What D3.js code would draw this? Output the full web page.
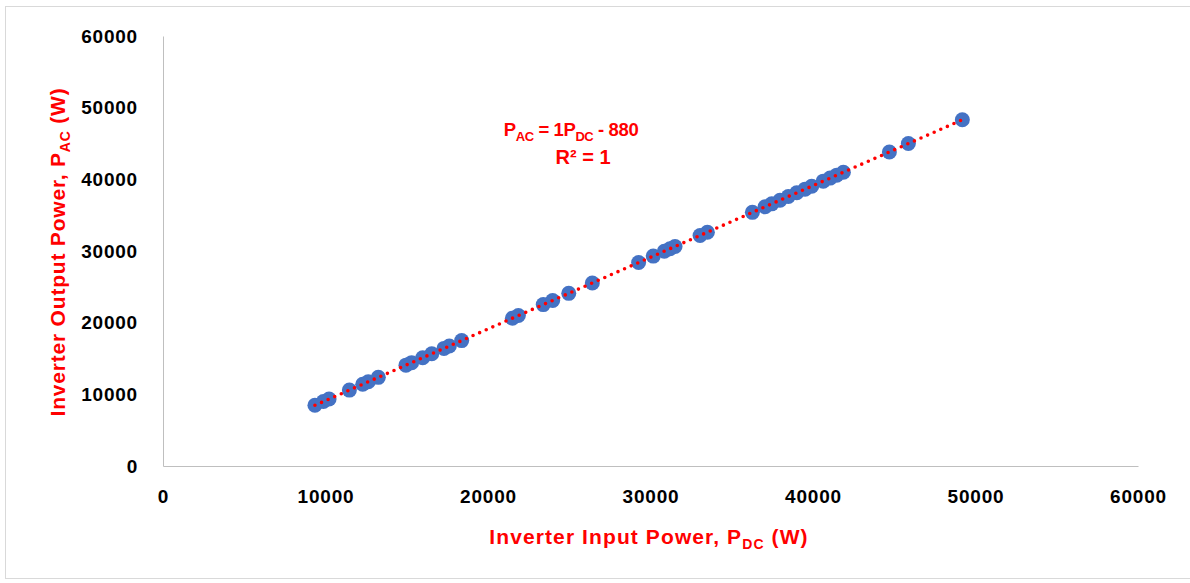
<!DOCTYPE html>
<html>
<head>
<meta charset="utf-8">
<script src="https://cdn.jsdelivr.net/npm/d3@7"></script>
<style>
  html, body { margin: 0; padding: 0; background: #fff; }
  svg text { font-family: "Liberation Sans", Arial, sans-serif; font-weight: bold; }
</style>
</head>
<body>
<svg id="chart" width="1190" height="583"></svg>
<script>
// ---- data ----
const pdc = [9350, 9870, 10220, 11470, 12290, 12630, 13250, 14950, 15300, 15980,
             16540, 17290, 17620, 18380, 21500, 21870, 23400, 23980, 24970, 26420,
             29270, 30170, 30850, 31200, 31510, 33050, 33500, 36270, 37050, 37460,
             37970, 38480, 39000, 39510, 39920, 40630, 41050, 41460, 41870, 44700,
             45870, 49190];
const pac = [8470, 8990, 9340, 10590, 11410, 11750, 12370, 14070, 14420, 15100,
             15660, 16410, 16740, 17500, 20620, 20990, 22520, 23100, 24090, 25540,
             28390, 29290, 29970, 30320, 30630, 32170, 32620, 35390, 36170, 36580,
             37090, 37600, 38120, 38630, 39040, 39750, 40170, 40580, 40990, 43820,
             44990, 48310];
const xTicks = [0, 10000, 20000, 30000, 40000, 50000, 60000];
const yTicks = [0, 10000, 20000, 30000, 40000, 50000, 60000];
const trendSlope = 1;
const trendIntercept = -880;
const xTitle = ["Inverter Input Power, P", "DC", " (W)"];
const yTitle = ["Inverter Output Power, P", "AC", " (W)"];

// ---- layout ----
const svg = d3.select("#chart");
const L = 163, R = 1138, T = 36, B = 466;
const x = d3.scaleLinear().domain([0, 60000]).range([L, R]);
const y = d3.scaleLinear().domain([0, 60000]).range([B, T]);

// chart frame
svg.append("rect").attr("x", 5.5).attr("y", 6.5).attr("width", 1200).attr("height", 572)
  .attr("fill", "#fff").attr("stroke", "#d9d9d9").attr("stroke-width", 1);

// axes
const xAxis = svg.append("g").attr("transform", `translate(0,${B})`)
  .call(d3.axisBottom(x).tickValues(xTicks).tickSize(0).tickPadding(24).tickFormat(d3.format("d")));
const yAxis = svg.append("g").attr("transform", `translate(${L},0)`)
  .call(d3.axisLeft(y).tickValues(yTicks).tickSize(0).tickPadding(25).tickFormat(d3.format("d")));
[xAxis, yAxis].forEach(g => {
  g.select(".domain").attr("stroke", "#bfbfbf").attr("stroke-width", 1);
  g.selectAll("text").attr("fill", "#000").style("font-size", "19px")
    .style("font-family", "'Liberation Sans', Arial, sans-serif").style("font-weight", "bold")
    .attr("letter-spacing", "0.8px");
});

// markers
svg.append("g").selectAll("circle").data(pdc).join("circle")
  .attr("cx", (d) => x(d)).attr("cy", (d, i) => y(pac[i])).attr("r", 7.5)
  .attr("fill", "#4472c4");

// trendline (dotted)
const x0 = d3.min(pdc), x1 = d3.max(pdc);
svg.append("line")
  .attr("x1", x(x0)).attr("y1", y(trendSlope * x0 + trendIntercept))
  .attr("x2", x(x1)).attr("y2", y(trendSlope * x1 + trendIntercept))
  .attr("stroke", "#ff0000").attr("stroke-width", 3.6)
  .attr("stroke-linecap", "round").attr("stroke-dasharray", "0 7.2");

// equation label
const eq = svg.append("text").attr("x", 571).attr("y", 136).attr("text-anchor", "middle")
  .attr("fill", "#ff0000").style("font-size", "18.5px").attr("letter-spacing", "-0.4px");
eq.append("tspan").text("P");
eq.append("tspan").text("AC").attr("dy", 5).style("font-size", "13px");
eq.append("tspan").text(" = 1P").attr("dy", -5);
eq.append("tspan").text("DC").attr("dy", 5).style("font-size", "13px");
eq.append("tspan").text(" - " + Math.abs(trendIntercept)).attr("dy", -5);
svg.append("text").attr("x", 583).attr("y", 164).attr("text-anchor", "middle")
  .attr("fill", "#ff0000").style("font-size", "20px").text("R² = 1");

// axis titles
function title(parts, sel) {
  sel.append("tspan").text(parts[0]);
  sel.append("tspan").text(parts[1]).attr("dy", 5).style("font-size", "14px");
  sel.append("tspan").text(parts[2]).attr("dy", -5);
}
title(xTitle, svg.append("text").attr("x", 649).attr("y", 544).attr("text-anchor", "middle")
  .attr("fill", "#ff0000").style("font-size", "21px").attr("letter-spacing", "1.1px"));
title(yTitle, svg.append("text").attr("transform", "translate(65,252) rotate(-90)")
  .attr("text-anchor", "middle").attr("fill", "#ff0000").style("font-size", "21px")
  .attr("letter-spacing", "0.8px"));
</script>
</body>
</html>
